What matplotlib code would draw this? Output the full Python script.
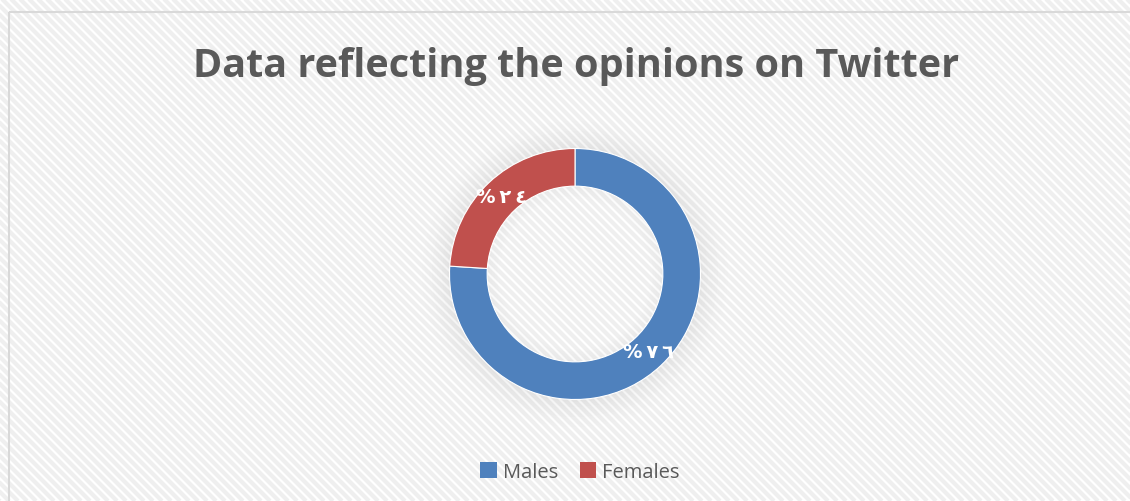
import matplotlib
matplotlib.use("Agg")
import matplotlib.pyplot as plt
import numpy as np
from matplotlib.collections import LineCollection
from matplotlib.patches import Rectangle, Wedge

title = "Data reflecting the opinions on Twitter"
categories = ["Males", "Females"]
values = [76, 24]
labels = ["%\u2009\u0667\u2009\u0666", "%\u2009\u0662\u2009\u0664"]
colors = ["#4F81BD", "#C0504D"]

W, H = 1130, 502
fig = plt.figure(figsize=(W / 100, H / 100), dpi=100)
fig.patch.set_facecolor("white")

# background with diagonal stripes (pixel overlay axes)
bg = fig.add_axes([0, 0, 1, 1])
bg.set_xlim(0, W)
bg.set_ylim(H, 0)
bg.axis("off")
x0, y0 = 9, 13
bg.add_patch(Rectangle((x0, y0), W - x0 + 10, H - y0 + 10, facecolor="white",
                       edgecolor="none", zorder=0))
segs = []
period = 9
for c in np.arange(-H, W + H, period):
    segs.append([(c, 0), (c + H, H)])
lc = LineCollection(segs, colors="#efefef", linewidths=3.0, zorder=1)
lc.set_clip_path(Rectangle((x0, y0), W, H, transform=bg.transData))
bg.add_collection(lc)
bg.add_patch(Rectangle((x0, y0), W - x0 + 10, H - y0 + 10, facecolor="none",
                       edgecolor="#d9d9d9", linewidth=1.5, zorder=2))

fig.text(576 / W, 1 - 67 / H, title, ha="center", va="center",
         fontsize=28.5, fontweight="bold", color="#595959", family="Open Sans")

# donut axes
cx, cy, R = 575, 275, 125.5
half = 170
ax = fig.add_axes([(cx - half) / W, (H - cy - half) / H, 2 * half / W, 2 * half / H])
ax.axis("off")

# soft outer glow
n = 12
for i in range(n):
    a = 0.05 * (1 - i / n) ** 1.5
    ax.add_patch(Wedge((0, 0), 1.0 + 0.02 * (i + 1), 0, 360, width=0.02,
                       facecolor="#000000", alpha=a, edgecolor="none", zorder=0))
# faint inner shadow
for i in range(5):
    a = 0.025 * (1 - i / 5)
    ax.add_patch(Wedge((0, 0), 0.7 - 0.02 * i, 0, 360, width=0.02,
                       facecolor="#000000", alpha=a, edgecolor="none", zorder=0))

wedges, _ = ax.pie(values, colors=colors, startangle=90, counterclock=False,
                   radius=1.0, wedgeprops=dict(width=0.3, edgecolor="white", linewidth=0.8))
for w in wedges:
    w.set_zorder(2)

lim = half / R
ax.set_xlim(-lim, lim)
ax.set_ylim(-lim, lim)
ax.set_aspect("equal")

total = sum(values)
start = 90
for v, lab in zip(values, labels):
    ang = np.deg2rad(start - v / total * 360 / 2)
    start -= v / total * 360
    r = 0.85
    ax.text(r * np.cos(ang), r * np.sin(ang), lab, ha="center", va="center",
            color="white", fontsize=14, fontweight="bold", family="DejaVu Sans", zorder=3)

handles = [Rectangle((0, 0), 1, 1, facecolor=c) for c in colors]
leg = fig.legend(handles, categories, loc="center", bbox_to_anchor=(580 / W, 1 - 473 / H),
                 ncol=2, frameon=False, handlelength=0.8, handleheight=0.8,
                 handletextpad=0.3, columnspacing=1.1, prop=dict(family="Open Sans", size=14.5))
for t in leg.get_texts():
    t.set_color("#595959")

fig.savefig("out.png", dpi=100)
